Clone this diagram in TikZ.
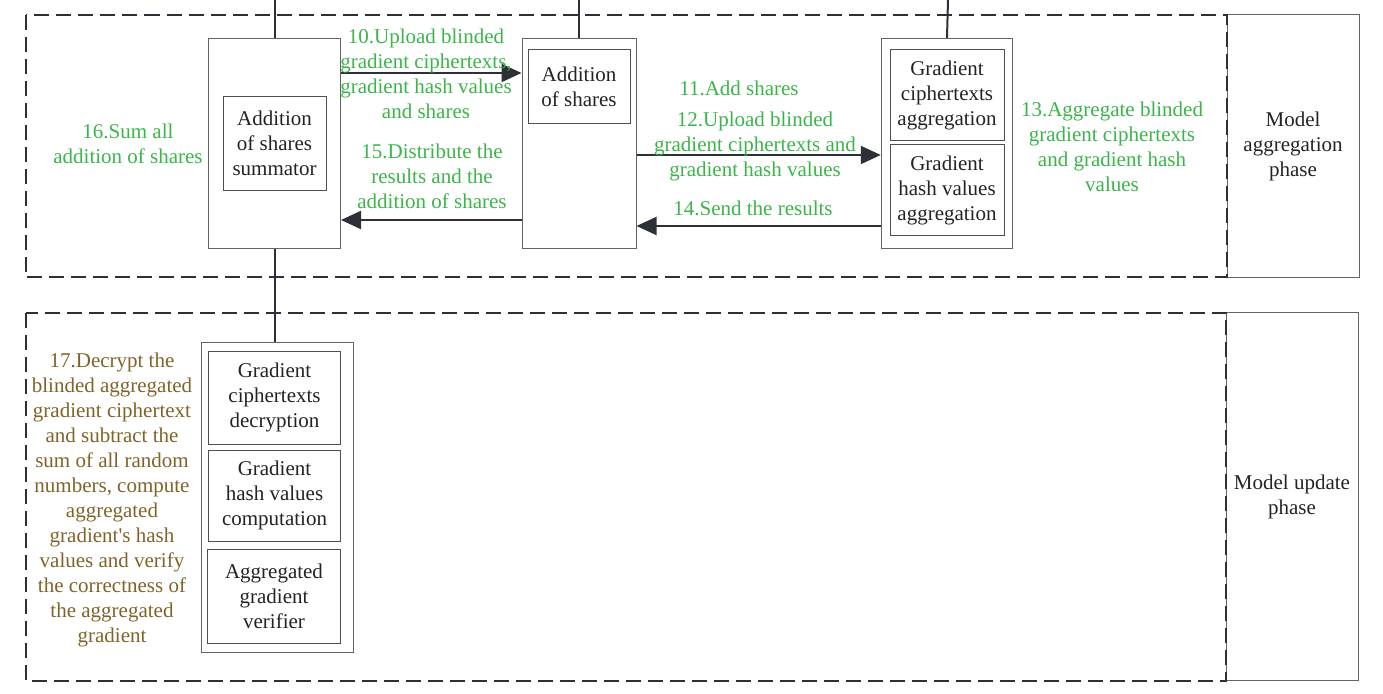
\documentclass[tikz,border=0pt]{standalone}
\usepackage{fontspec}
\setmainfont{Liberation Serif}
\usepackage{tikz}
\usetikzlibrary{arrows.meta}
\usepackage{xcolor}
\definecolor{stepgreen}{RGB}{59,181,74}
\definecolor{stepbrown}{RGB}{128,99,40}
\definecolor{linegray}{RGB}{100,100,100}
\definecolor{darkline}{RGB}{45,48,54}
\definecolor{boxtext}{RGB}{35,35,35}

\begin{document}
\begin{tikzpicture}[x=0.5pt,y=-0.5pt,>={Triangle[length=10pt,width=9pt]}]
\tikzset{
    outerbox/.style={%
        draw=linegray, line width=0.5pt,
        rectangle, inner sep=0pt,
        minimum width=#1
        },
    innerbox/.style={%
        draw=darkline!85, line width=0.5pt,
        rectangle, inner sep=0pt, align=center, text=boxtext,
        font=\fontsize{10.5}{12.5}\selectfont
        },
    phasebox/.style={%
        draw=linegray, line width=0.5pt,
        rectangle, inner sep=0pt, align=center, text=boxtext,
        minimum width=66pt,
        font=\fontsize{10.5}{12.5}\selectfont
        },
    frame/.style={%
        draw=darkline, line width=1pt,
        dash pattern=on 7.5pt off 3.5pt
        },
    steptext/.style={%
        text=stepgreen, align=center, inner sep=0pt,
        font=\fontsize{10.5}{12.5}\selectfont
        },
    flow/.style={->, draw=darkline, fill=darkline, line width=1pt},
    wire/.style={draw=darkline, line width=1pt},
}
\useasboundingbox (0,0) rectangle (1383,694);
%%%PHASES
\node[phasebox, minimum height=131.25pt] (aggphase) at (1293,146.25) {Model\\aggregation\\phase};
\node[phasebox, minimum height=184pt] (updphase) at (1292,497) {Model update\\phase};
\draw[frame] (25.5,15) rectangle (1227,277.5);
\draw[frame] (25.5,313) rectangle (1226,681);
%%%AGGREGATION PHASE
\node[outerbox=66pt, minimum height=105.2pt] (summ) at (274.5,143.5) {};
\node[innerbox, minimum width=51.5pt, minimum height=46.8pt] (summin) at (274.5,143.5) {Addition\\of shares\\summator};
\node[outerbox=57pt, minimum height=105.2pt] (share) at (579,143.5) {};
\node[innerbox, minimum width=51pt, minimum height=37pt] (sharein) at (579,87) {Addition\\of shares};
\node[outerbox=65.75pt, minimum height=105.2pt] (agg) at (947,143.5) {};
\node[innerbox, minimum width=57pt, minimum height=45.5pt] (aggcip) at (947,95.5) {Gradient\\ciphertexts\\aggregation};
\node[innerbox, minimum width=57pt, minimum height=45.5pt] (agghash) at (947,190.5) {Gradient\\hash values\\aggregation};
%%%UPDATE PHASE
\node[outerbox=76pt, minimum height=155pt] (upd) at (277.7,497.3) {};
\node[innerbox, minimum width=66.2pt, minimum height=46.85pt] (dec) at (274.5,397.9) {Gradient\\ciphertexts\\decryption};
\node[innerbox, minimum width=66.2pt, minimum height=45.35pt] (hash) at (274.5,495.7) {Gradient\\hash values\\computation};
\node[innerbox, minimum width=66.2pt, minimum height=46.8pt] (verif) at (274,596.5) {Aggregated\\gradient\\verifier};
%%%WIRES
\coordinate (in1) at (274.5,0);
\coordinate (in2) at (579,0);
\coordinate (in3) at (948,0);
\draw[wire] (in1) -- (summ.north);
\draw[wire] (in2) -- (share.north);
\draw[wire] (in3) -- (agg.north);
\draw[wire] (summ.south) -- (summ.south |- upd.north);
%%%FLOWS
\draw[flow] (summ.east |- 0,73) -- (share.west |- 0,73);
\draw[flow] (share.west |- 0,220) -- (summ.east |- 0,220);
\draw[flow] (share.east |- 0,155) -- (agg.west |- 0,155);
\draw[flow] (agg.west |- 0,226) -- (share.east |- 0,226);
%%%STEPS
\node[steptext] (s10) at (426,74) {10.Upload blinded\\gradient ciphertexts,\\gradient hash values\\and shares};
\node[steptext] (s11) at (739,88) {11.Add shares};
\node[steptext] (s12) at (755,146) {12.Upload blinded\\gradient ciphertexts and\\gradient hash values};
\node[steptext] (s13) at (1112,147) {13.Aggregate blinded\\gradient ciphertexts\\and gradient hash\\values};
\node[steptext] (s14) at (753,208) {14.Send the results};
\node[steptext] (s15) at (432,176) {15.Distribute the\\results and the\\addition of shares};
\node[steptext] (s16) at (128,143.5) {16.Sum all\\addition of shares};
\node[steptext, text=stepbrown] (s17) at (112,500) {17.Decrypt the\\blinded aggregated\\gradient ciphertext\\and subtract the\\sum of all random\\numbers, compute\\aggregated\\gradient\textquotesingle s hash\\values and verify\\the correctness of\\the aggregated\\gradient};
\end{tikzpicture}
\end{document}
